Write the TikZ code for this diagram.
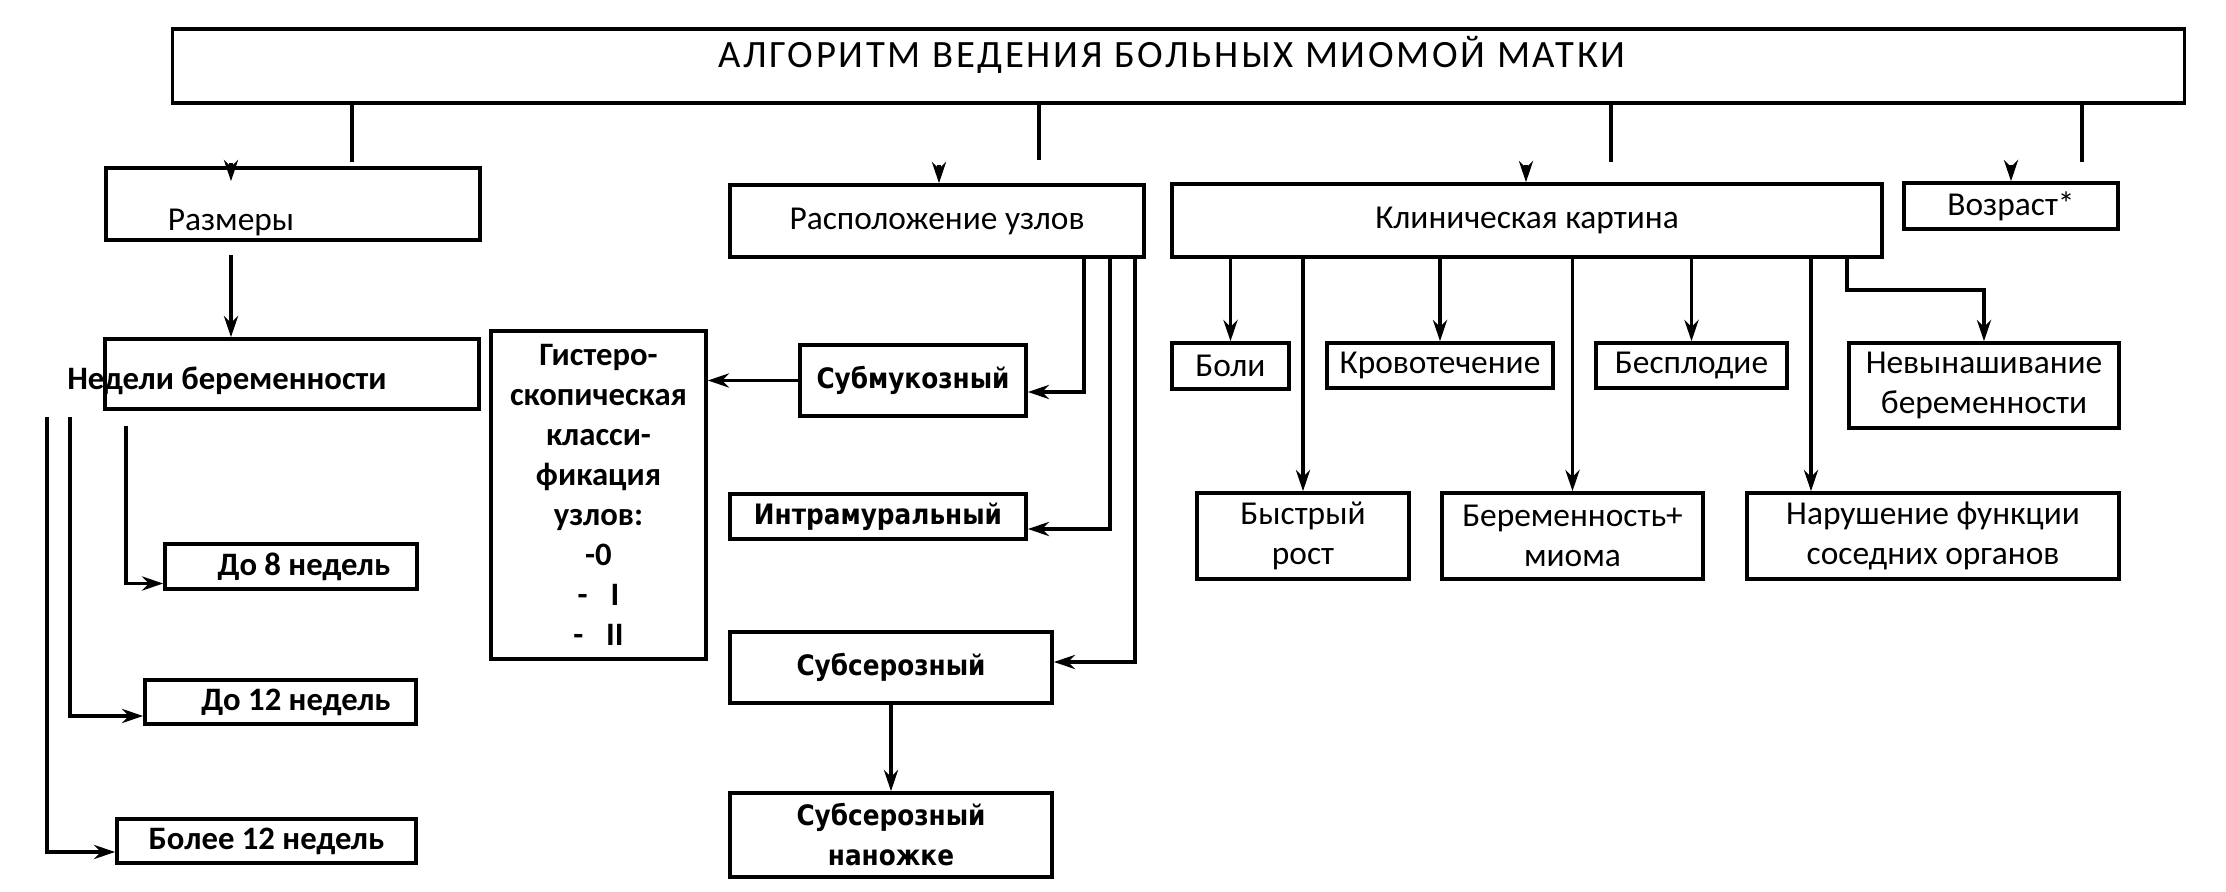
\documentclass[tikz,border=0pt]{standalone}
\usepackage{fontspec}
\setmainfont{Carlito}
\newfontfamily\ttlfont[LetterSpace=7]{Carlito}
\newfontfamily\dvfont[FakeStretch=0.88]{DejaVu Sans}
\usetikzlibrary{arrows.meta,calc}
\tikzset{
  box/.style={draw, line width=1pt, inner sep=0pt, align=center, font=\fontsize{9.5}{11.4}\selectfont},
  bbox/.style={box, font=\bfseries\fontsize{9.3}{11.4}\selectfont},
  vbox/.style={box, font=\dvfont\bfseries\fontsize{8}{11.4}\selectfont},
  txt/.style={inner sep=0pt},
  ln/.style={line width=1pt},
  arr/.style={line width=1pt, -{Stealth[length=6pt,width=4pt]}}
}
\begin{document}
\begin{tikzpicture}[x=0.01cm,y=-0.01cm]
\useasboundingbox (0,0) rectangle (2226,892);
% title
\node[box, minimum width=20.11cm, minimum height=0.74cm] (title) at (1178.5,66) {};
\node[txt, font=\ttlfont\fontsize{11}{13}\selectfont] (titleT) at (1172,55) {АЛГОРИТМ ВЕДЕНИЯ БОЛЬНЫХ МИОМОЙ МАТКИ};
% level 1
\node[box, minimum width=3.74cm, minimum height=0.72cm] (razm) at (293,204) {};
\node[txt, font=\fontsize{9.5}{11.4}\selectfont] (razmT) at (231,222) {Размеры};
\node[box, minimum width=4.14cm, minimum height=0.72cm] (rasp) at (937,221) {Расположение узлов};
\node[box, minimum width=7.10cm, minimum height=0.73cm] (klin) at (1527,220.5) {Клиническая картина};
\node[box, minimum width=2.14cm, minimum height=0.46cm] (vozr) at (2011,206) {Возраст*};
% left column
\node[box, minimum width=3.74cm, minimum height=0.70cm] (nedeli) at (292,374) {};
\node[txt, font=\bfseries\fontsize{9.3}{11.4}\selectfont] (nedeliT) at (227,381) {Недели беременности};
\node[bbox, minimum width=2.52cm, minimum height=0.45cm] (do8) at (291,566.5) {\hspace*{0.26cm}До 8 недель};
\node[bbox, minimum width=2.71cm, minimum height=0.44cm] (do12) at (280.5,702) {\hspace*{0.31cm}До 12 недель};
\node[bbox, minimum width=2.99cm, minimum height=0.44cm] (bolee) at (266.5,841) {Более 12 недель};
% hysteroscopic
\node[bbox, minimum width=2.15cm, minimum height=3.28cm] (gist) at (598.5,495) {Гистеро-\\скопическая\\класси-\\фикация\\узлов:\\-0\\-\hspace{0.7em}I\\-\hspace{0.7em}II};
% location column
\node[vbox, minimum width=2.26cm, minimum height=0.71cm] (subm) at (913,380.5) {Субмукозный};
\node[vbox, minimum width=2.96cm, minimum height=0.45cm] (intra) at (878,516.5) {Интрамуральный};
\node[vbox, minimum width=3.22cm, minimum height=0.71cm] (subs) at (891,667.5) {Субсерозный};
\node[vbox, minimum width=3.22cm, minimum height=0.84cm] (nanog) at (891,835) {Субсерозный\\наножке};
% clinical
\node[box, minimum width=1.17cm, minimum height=0.46cm] (boli) at (1230.5,366) {Боли};
\node[box, minimum width=2.26cm, minimum height=0.45cm] (krov) at (1440,365.5) {Кровотечение};
\node[box, minimum width=1.91cm, minimum height=0.45cm] (besp) at (1691.5,365.5) {Бесплодие};
\node[box, minimum width=2.70cm, minimum height=0.85cm] (nevyn) at (1984,385.5) {Невынашивание\\беременности};
\node[box, minimum width=2.12cm, minimum height=0.86cm] (bystr) at (1303,536) {Быстрый\\рост};
\node[box, minimum width=2.61cm, minimum height=0.86cm] (berem) at (1572.5,536) {Беременность+\\миома};
\node[box, minimum width=3.72cm, minimum height=0.86cm] (narush) at (1933,536) {Нарушение функции\\соседних органов};
% top stubs and arrowheads
\coordinate (s1) at (352,162);
\coordinate (s2) at (1039,160);
\coordinate (s3) at (1611,162);
\coordinate (s4) at (2082,162);
\draw[ln] (s1 |- title.south) -- (s1);
\draw[ln] (s2 |- title.south) -- (s2);
\draw[ln] (s3 |- title.south) -- (s3);
\draw[ln] (s4 |- title.south) -- (s4);
\coordinate (a1) at (231,163);
\coordinate (a2) at (939,165);
\coordinate (a3) at (1526,165);
\coordinate (a4) at (2011,165);
\draw[arr] (a1) -- ($(a1 |- razm.north)+(0,15)$);
\draw[arr] (a2) -- (a2 |- rasp.north);
\draw[arr] (a3) -- (a3 |- klin.north);
\draw[arr] (a4) -- (a4 |- vozr.north);
% sizes
\coordinate (r0) at (231,255);
\draw[arr] (r0) -- (r0 |- nedeli.north);
\coordinate (l1) at (47,417);
\coordinate (l2) at (70,417);
\coordinate (l3) at (126,426);
\draw[arr] (l1) |- ([yshift=-0.11cm]bolee.west);
\draw[arr] (l2) |- ([yshift=-0.14cm]do12.west);
\draw[arr] (l3) |- ([yshift=-0.17cm]do8.west);
% location
\coordinate (p1) at (1084,0);
\coordinate (p2) at (1110,0);
\coordinate (p3) at (1135,0);
\draw[arr] (p1 |- rasp.south) |- ([yshift=-0.115cm]subm.east);
\draw[arr] (p2 |- rasp.south) |- ([yshift=-0.125cm]intra.east);
\draw[arr] (p3 |- rasp.south) |- ([yshift=0.055cm]subs.east);
\draw[arr] (subs.south) -- (nanog.north);
\draw[arr] (subm.west) -- (subm.west -| gist.east);
% clinical
\draw[arr] (klin.south -| boli.north) -- (boli.north);
\draw[arr] (klin.south -| bystr.north) -- (bystr.north);
\draw[arr] (klin.south -| krov.north) -- (krov.north);
\draw[arr] (klin.south -| berem.north) -- (berem.north);
\draw[arr] (klin.south -| besp.north) -- (besp.north);
\coordinate (k6) at (1811,0);
\draw[arr] (k6 |- klin.south) -- (k6 |- narush.north);
\coordinate (k7) at (1847,290);
\draw[arr] (k7 |- klin.south) -- (k7) -| (nevyn.north);
\end{tikzpicture}
\end{document}
